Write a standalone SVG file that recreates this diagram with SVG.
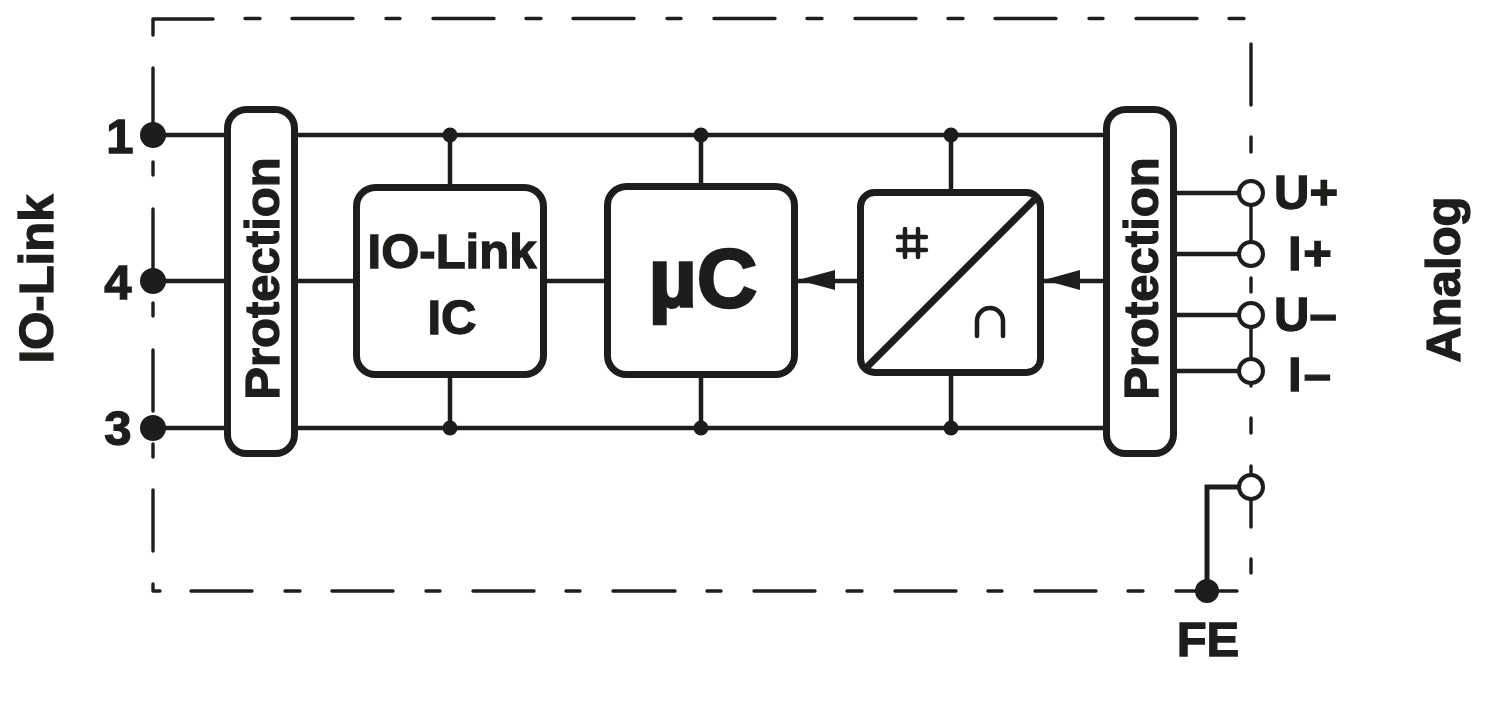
<svg xmlns="http://www.w3.org/2000/svg" width="1500" height="703" viewBox="0 0 1500 703">
<style>
.t{font-family:"Liberation Sans",Arial,sans-serif;font-weight:700;font-size:49px;fill:#1d1d1b;stroke:#1d1d1b;stroke-width:1.3}
.m{text-anchor:middle}
.box{fill:#fff;stroke:#1d1d1b;stroke-width:7}
.w{fill:none;stroke:#1d1d1b;stroke-width:4.5}
.d{fill:none;stroke:#1d1d1b;stroke-width:3.4;stroke-linecap:round;stroke-linejoin:round}
.dot{fill:#1d1d1b}
.o{fill:#fff;stroke:#1d1d1b;stroke-width:4}
.g{fill:none;stroke:#1d1d1b;stroke-width:4.5;stroke-linecap:round}
</style>
<rect width="1500" height="703" fill="#fff"/>
<g id="boundary">
<path class="d" d="M153 35V19H213M245 18.5H260M292 18.5H353M386 18.5H400M433 18.5H494M526 18.5H541M573 18.5H634M667 18.5H681M714 18.5H775M807 18.5H822M855 18.5H916M948 18.5H963M995 18.5H1056M1089 18.5H1103M1136 18.5H1197M1229 18.5H1244"/>
<path class="d" d="M153 68V129M153 162V175M153 209V270M153 303V316M153 350V411M153 444V457M153 490V551M153 584V591H160"/>
<path class="d" d="M191 591H252M285 591H300M332 591H393M426 591H440M473 591H534M566 591H580M613 591H675M707 591H721M754 591H815M847 591H862M895 591H956M988 591H1002M1035 591H1096M1128 591H1143M1176 591H1237"/>
<path class="d" d="M1251 44V105M1251 137V152M1251 185V246M1251 278V292M1251 325V386M1251 418V433M1251 466V527M1251 559V573"/>
</g>
<g id="connectors">
<path class="w" d="M153 135H1105M153 281H1105M153 428H1105"/>
<path class="w" d="M450 135V184M701 135V184M951 135V190M450 378V428M701 378V428M951 376V428"/>
<path class="w" d="M1175 193H1240M1175 254H1240M1175 315H1240M1175 371H1240"/>
<path class="w" d="M1207 591V487H1240" style="stroke-width:5"/>
<path class="dot" d="M798 280L835 270V290Z"/>
<path class="dot" d="M1044 280L1080 270V290Z"/>
<circle class="dot" cx="450" cy="135" r="7.5"/><circle class="dot" cx="701" cy="135" r="7.5"/><circle class="dot" cx="951" cy="135" r="7.5"/>
<circle class="dot" cx="450" cy="428" r="7.5"/><circle class="dot" cx="701" cy="428" r="7.5"/><circle class="dot" cx="951" cy="428" r="7.5"/>
</g>
<g id="terminal-1"><circle class="dot" cx="153" cy="135" r="13"/><text class="t" x="120" y="153" text-anchor="middle">1</text></g>
<g id="terminal-4"><circle class="dot" cx="153" cy="281" r="13"/><text class="t" x="118" y="299" text-anchor="middle">4</text></g>
<g id="terminal-3"><circle class="dot" cx="153" cy="428" r="13"/><text class="t" x="118" y="445" text-anchor="middle">3</text></g>
<g id="label-io-link"><text class="t m" transform="translate(53 279) rotate(-90)">IO-Link</text></g>
<g id="label-analog"><text class="t m" transform="translate(1460 279.500) rotate(-90)">Analog</text></g>
<g id="protection-left"><rect class="box" x="227.500" y="109.500" width="67" height="344" rx="19"/><text class="t m" transform="translate(278.500 278.500) rotate(-90)">Protection</text></g>
<g id="protection-right"><rect class="box" x="1106.500" y="109.500" width="67" height="344" rx="19"/><text class="t m" transform="translate(1158 278.500) rotate(-90)">Protection</text></g>
<g id="io-link-ic"><rect class="box" x="356.500" y="187.500" width="187" height="187" rx="19"/><text class="t m" x="452" y="268">IO-Link</text><text class="t m" x="452" y="334">IC</text></g>
<g id="uc"><rect class="box" x="607.500" y="186.500" width="187" height="188" rx="19"/><text class="t m" x="703" y="307" style="font-size:84px;stroke-width:2.4">µC</text></g>
<g id="converter"><rect class="box" x="860.500" y="192.500" width="180" height="180" rx="14"/>
<path d="M864 370L1038 196" fill="none" stroke="#1d1d1b" stroke-width="7"/>
<path class="g" d="M898 237H926M898 250H926M905 229V257M918 229V257"/>
<path class="g" d="M977 336V321a13 13 0 0 1 26 0V336"/></g>
<g id="terminal-u-plus"><circle class="o" cx="1251" cy="193" r="12"/><text class="t" x="1274" y="209">U+</text></g>
<g id="terminal-i-plus"><circle class="o" cx="1251" cy="254" r="12"/><text class="t" x="1288" y="270">I<tspan dx="1.5">+</tspan></text></g>
<g id="terminal-u-minus"><circle class="o" cx="1251" cy="315" r="12"/><text class="t" x="1274" y="331">U–</text></g>
<g id="terminal-i-minus"><circle class="o" cx="1251" cy="371" r="12"/><text class="t" x="1288" y="391">I<tspan dx="2">–</tspan></text></g>
<g id="terminal-fe-open"><circle class="o" cx="1251" cy="487" r="12"/></g>
<g id="terminal-fe"><circle class="dot" cx="1207" cy="591" r="12"/><text class="t m" x="1208" y="656">FE</text></g>
</svg>
